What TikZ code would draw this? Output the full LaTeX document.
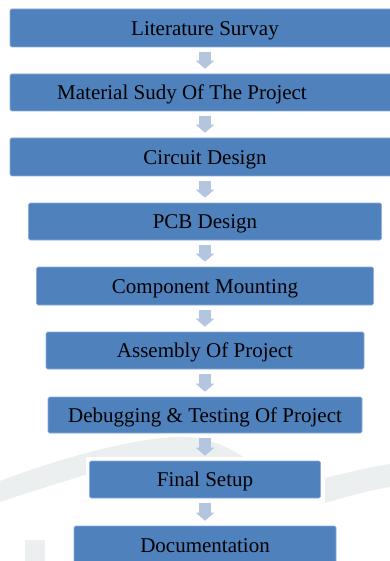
\documentclass[tikz,border=0pt]{standalone}
\usepackage{fontspec}
\setmainfont{Liberation Serif}
\usetikzlibrary{arrows.meta}
\definecolor{boxblue}{HTML}{4F81BD}
\definecolor{boxedge}{HTML}{8FAEDA}
\definecolor{arrowblue}{HTML}{B4C5E0}
\definecolor{wmgray}{HTML}{ECEFEF}
\tikzset{
  stepbox/.style={rectangle, fill=boxblue, draw=boxedge, line width=0.6pt,
    rounded corners=1.5pt, inner sep=0pt, text=black,
    text height=14.5pt, text depth=0pt,
    font=\fontsize{21}{25}\selectfont},
  flowarrow/.style={draw=arrowblue, line width=12pt,
    -{Triangle[width=18pt,length=8pt,fill=arrowblue]}, shorten <=5pt, shorten >=5pt},
  wm/.style={fill=wmgray}
}
\begin{document}
\begin{tikzpicture}[x=1pt,y=-1pt]
\useasboundingbox (0,0) rectangle (390,561);
\fill[white] (0,0) rectangle (390,561);
% faint watermark
\fill[wm] (0,481) .. controls (60,458) and (140,436) .. (185,437)
  .. controls (210,438) and (230,448) .. (245,458) -- (245,470)
  .. controls (200,455) and (150,452) .. (100,470)
  .. controls (60,483) and (20,495) .. (0,502) -- cycle;
\fill[wm] (325,478) .. controls (350,472) and (370,467) .. (390,464)
  -- (390,487) .. controls (370,490) and (345,497) .. (325,503) -- cycle;
\fill[wm] (25,540) rectangle (45,561);
% white halo around the final setup box
\fill[white] (86,457) rectangle (325,502);
% boxes
\node[stepbox, minimum width=390pt, minimum height=38pt] (b1) at (205,28) {Literature Survay};
\node[stepbox, minimum width=390pt, minimum height=37pt] (b2) at (205,92.5) {Material Sudy Of The Project\kern46pt};
\node[stepbox, minimum width=390pt, minimum height=38pt] (b3) at (205,157) {Circuit Design};
\node[stepbox, minimum width=353pt, minimum height=37pt] (b4) at (205,221.5) {PCB Design};
\node[stepbox, minimum width=337pt, minimum height=38pt] (b5) at (205,286) {Component Mounting};
\node[stepbox, minimum width=318pt, minimum height=37pt] (b6) at (205,350.5) {Assembly Of Project};
\node[stepbox, minimum width=314pt, minimum height=36pt] (b7) at (205,415) {Debugging \& Testing Of Project};
\node[stepbox, minimum width=231pt, minimum height=37pt] (b8) at (205,479.5) {Final Setup};
\node[stepbox, minimum width=262pt, minimum height=38pt] (b9) at (205,545) {Documentation};
% arrows
\foreach \a/\b in {b1/b2,b2/b3,b3/b4,b4/b5,b5/b6,b6/b7,b7/b8,b8/b9}
  \draw[flowarrow] (\a.south) -- (\b.north);
\end{tikzpicture}
\end{document}
